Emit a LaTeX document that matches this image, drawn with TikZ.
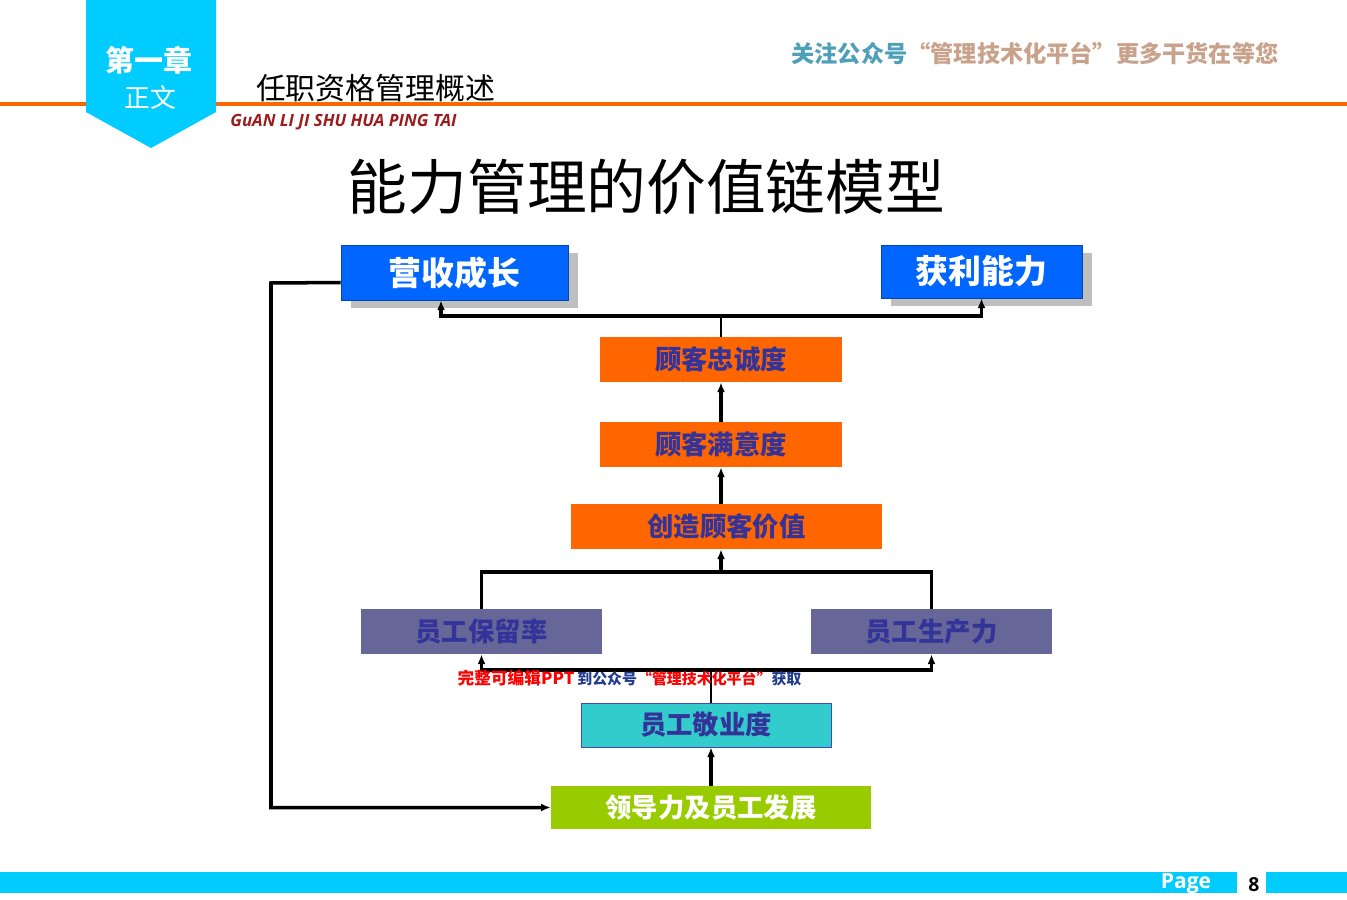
\documentclass[tikz,border=0pt]{standalone}
\usepackage{fontspec}
\setmainfont{Noto Sans CJK SC}
\newfontfamily\latinfont{Open Sans}
\usetikzlibrary{shadows,arrows.meta}
\definecolor{cyanbar}{HTML}{00CCFF}
\definecolor{rule}{HTML}{FF6600}
\definecolor{bluebox}{HTML}{0066FF}
\definecolor{orangebox}{HTML}{FF6600}
\definecolor{purplebox}{HTML}{666699}
\definecolor{tealbox}{HTML}{33CCCC}
\definecolor{greenbox}{HTML}{99CC00}
\definecolor{navytext}{HTML}{333399}
\definecolor{pinyin}{HTML}{9B1C1C}
\definecolor{headteal}{HTML}{4E9FB8}
\definecolor{headtan}{HTML}{C9A28C}
\definecolor{markblue}{HTML}{203A8F}

\begin{document}
\begin{tikzpicture}[x=0.02cm,y=-0.02cm,
   every node/.style={inner sep=0pt},
   box/.style={rectangle,font=\fontsize{15}{16}\selectfont\bfseries,text=navytext},
   topbox/.style={box,fill=bluebox,draw=bluebox!70!black,thin,text=white,
      font=\fontsize{18.7}{20}\selectfont\bfseries,
      drop shadow={shadow xshift=0.2cm,shadow yshift=-0.16cm,fill=black!25,opacity=1}},
   to/.style={-{Latex[length=5.5pt,width=4.5pt]},line width=2pt},
   link/.style={line width=2pt},
   thinlink/.style={line width=1.3pt}]
\useasboundingbox (0,0) rectangle (1347,900);
% header
\draw[rule,line width=2.3pt] (0,104) -- (1347,104);
\fill[cyanbar] (86,0) -- (216,0) -- (216,112) -- (151,148) -- (86,112) -- cycle;
\node[text=white,font=\fontsize{16.5}{18}\selectfont\bfseries] (chap) at (149,60) {第一章};
\node[text=white,font=\fontsize{14.7}{16}\selectfont] (part) at (150,98) {正文};
\node[font=\fontsize{17}{18}\selectfont] (sect) at (375.5,88) {任职资格管理概述};
\node[text=pinyin,font=\latinfont\fontsize{9.6}{10}\selectfont\bfseries\itshape] (pin) at (343.5,122) {GuAN LI JI SHU HUA PING TAI};
\node[font=\fontsize{13.2}{14}\selectfont\bfseries] (note) at (1035,53)
   {\textcolor{headteal}{关注公众号}\textcolor{headtan}{“管理技术化平台”更多干货在等您}};
\node[font=\fontsize{34}{36}\selectfont] (title) at (646.5,187) {能力管理的价值链模型};
% boxes
\node[topbox,minimum width=4.54cm,minimum height=1.1cm] (rev) at (454.5,272.5) {营收成长};
\node[topbox,minimum width=4.02cm,minimum height=1.06cm] (prof) at (981.5,271.5) {获利能力};
\node[box,fill=orangebox,minimum width=4.84cm,minimum height=0.9cm] (loyal) at (721,359.5) {顾客忠诚度};
\node[box,fill=orangebox,minimum width=4.84cm,minimum height=0.9cm] (satis) at (721,444.5) {顾客满意度};
\node[box,fill=orangebox,minimum width=6.22cm,minimum height=0.9cm] (value) at (726.5,526.5) {创造顾客价值};
\node[box,fill=purplebox,minimum width=4.82cm,minimum height=0.9cm] (retain) at (481.5,631.5) {员工保留率};
\node[box,fill=purplebox,minimum width=4.82cm,minimum height=0.9cm] (prod) at (931.5,631.5) {员工生产力};
\node[box,fill=tealbox,draw=blue!45!gray,minimum width=5cm,minimum height=0.88cm] (engage) at (706,725) {员工敬业度};
\node[box,fill=greenbox,text=white,minimum width=6.4cm,minimum height=0.86cm] (lead) at (711,807.5) {领导力及员工发展};
% junctions
\coordinate (jtop) at (721,316);
\coordinate (jmid) at (721,572);
\coordinate (jbot) at (711,670);
\coordinate (loop) at (271,283);
% connectors
\draw[thinlink] (loyal.north) -- (jtop);
\draw[to] (jtop) -| ([xshift=-0.27cm]rev.south);
\draw[to] (jtop) -| (prof.south);
\draw[to] (satis.north) -- (loyal.south);
\draw[to] (value.north -| satis.south) -- (satis.south);
\draw[to] (jmid) -- (value.south -| jmid);
\draw[link] (retain.north) |- (jmid) -| (prod.north);
\draw[thinlink] (engage.north -| jbot) -- (jbot);
\draw[to] (jbot) -| (retain.south);
\draw[to] (jbot) -| (prod.south);
\draw[to] (lead.north) -- (engage.south -| lead.north);
\draw[to] ([yshift=-0.2cm]rev.west) -- (loop) |- (lead.west);
% watermark
\node[font=\bfseries] (mark) at (629.5,678)
   {\textcolor{red}{\fontsize{9.5}{10}\selectfont 完整可编辑PPT}\,{\fontsize{8.5}{9}\selectfont\textcolor{markblue}{到公众号}\textcolor{red}{“管理技术化平台”}\textcolor{markblue}{获取}}};
% footer
\fill[cyanbar] (0,872) rectangle (1237,893);
\fill[cyanbar] (1266,872) rectangle (1347,893);
\node[text=white,font=\latinfont\fontsize{12}{13}\selectfont\bfseries] (page) at (1186,883) {Page};
\node[font=\latinfont\fontsize{11}{12}\selectfont\bfseries] (num) at (1254,885) {8};
\end{tikzpicture}
\end{document}
